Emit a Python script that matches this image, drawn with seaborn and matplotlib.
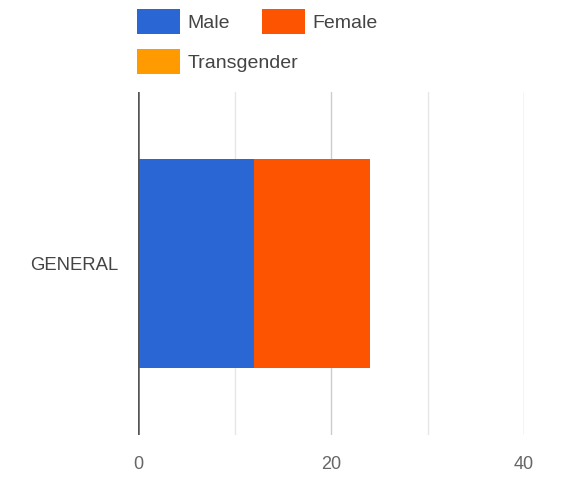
import matplotlib
matplotlib.use("Agg")
import matplotlib.pyplot as plt
from matplotlib.patches import Patch
from matplotlib.ticker import MultipleLocator
import seaborn as sns
import pandas as pd

categories = ["GENERAL"]
series_names = ["Male", "Female", "Transgender"]
male = [12]
female = [12]
transgender = [0]
x_ticks = [0, 20, 40]
colors = {"Male": "#2a67d5", "Female": "#fd5401", "Transgender": "#ff9a00"}

sns.set_style("white")
plt.rcParams["font.family"] = ["Liberation Sans", "DejaVu Sans"]

df = pd.DataFrame({"category": categories, "Male": male, "Female": female,
                   "Transgender": transgender})
df["cum_Male"] = df["Male"]
df["cum_Female"] = df["cum_Male"] + df["Female"]
df["cum_Transgender"] = df["cum_Female"] + df["Transgender"]

fig = plt.figure(figsize=(5.65, 4.83), dpi=100)
ax = fig.add_axes([138 / 565, 1 - 435 / 483, (524 - 138) / 565, (435 - 92) / 483])

for name in reversed(series_names):
    sns.barplot(data=df, x="cum_" + name, y="category", orient="h",
                color=colors[name], width=0.61, linewidth=0, saturation=1,
                ax=ax, zorder=3)

ax.set_xlim(0, 40)
ax.set_ylim(0.5, -0.5)
ax.set_xticks(x_ticks)
ax.xaxis.set_minor_locator(MultipleLocator(10))
ax.grid(axis="x", which="major", color="#cccccc", linewidth=1, zorder=0)
ax.grid(axis="x", which="minor", color="#e6e6e6", linewidth=1, zorder=0)
ax.set_axisbelow(True)
ax.axvline(0, color="#555555", linewidth=1.8, zorder=4)
for s in ax.spines.values():
    s.set_visible(False)
ax.set_xlabel("")
ax.set_ylabel("")
ax.tick_params(axis="x", which="both", length=0, pad=15, labelsize=13, labelcolor="#666666")
ax.tick_params(axis="y", length=0, pad=14, labelsize=13.3, labelcolor="#444444")

# legend items (Google-chart style flow layout)
legend_pos = {"Male": (137, 9), "Female": (262, 9), "Transgender": (137, 49)}
for name in series_names:
    x0, y0 = legend_pos[name]
    leg = fig.legend(handles=[Patch(facecolor=colors[name], edgecolor="none", label=name)],
                     loc="upper left", bbox_to_anchor=(x0 / 565, 1 - y0 / 483),
                     frameon=False, borderpad=0, borderaxespad=0,
                     handlelength=2.2, handleheight=1.6, handletextpad=0.41,
                     fontsize=14, labelcolor="#444444")

fig.savefig("out.png", dpi=100)
